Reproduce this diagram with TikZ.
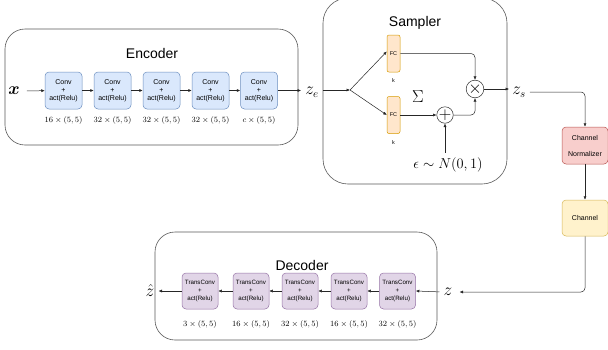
\documentclass[tikz,border=0pt]{standalone}
\usepackage{fontspec}
\setsansfont{Liberation Sans}
\usetikzlibrary{arrows.meta}
\definecolor{convfill}{HTML}{DAE8FC}
\definecolor{convdraw}{HTML}{6C8EBF}
\definecolor{fcfill}{HTML}{FFE6CC}
\definecolor{fcdraw}{HTML}{D79B00}
\definecolor{normfill}{HTML}{F8CECC}
\definecolor{normdraw}{HTML}{B85450}
\definecolor{chanfill}{HTML}{FFF2CC}
\definecolor{chandraw}{HTML}{D6B656}
\definecolor{tcfill}{HTML}{E1D5E7}
\definecolor{tcdraw}{HTML}{9673A6}
\begin{document}
\begin{tikzpicture}[x=1pt,y=-1pt,
  conn/.style={draw=black!85, line width=0.5pt, -{Latex[length=3.5pt,width=3pt]}},
  frame/.style={draw=black!65, line width=0.6pt, fill=white, inner sep=0pt},
  blockbox/.style={rounded corners=4pt, minimum width=37pt, minimum height=37pt, inner sep=0pt, align=center, line width=0.5pt},
  conv/.style={blockbox, draw=convdraw, fill=convfill, font=\sffamily\fontsize{7}{8}\selectfont},
  tconv/.style={blockbox, minimum width=36pt, minimum height=36pt, draw=tcdraw, fill=tcfill, font=\sffamily\fontsize{6.2}{8}\selectfont},
  fc/.style={draw=fcdraw, fill=fcfill, rounded corners=2pt, minimum width=13pt, minimum height=37pt, inner sep=0pt, line width=0.5pt, font=\sffamily\fontsize{5.5}{6}\selectfont},
  chan/.style={rounded corners=4pt, minimum width=46pt, minimum height=37pt, inner sep=0pt, align=center, line width=0.5pt, font=\sffamily\fontsize{7}{16}\selectfont},
  title/.style={font=\sffamily\fontsize{14}{16}\selectfont},
  dim/.style={font=\fontsize{8}{9}\selectfont},
  small/.style={font=\sffamily\fontsize{5.5}{6}\selectfont},
  bigmath/.style={font=\fontsize{16}{18}\selectfont, inner sep=1pt},
  opcirc/.style={circle, draw=black!85, line width=0.5pt, minimum size=16pt, inner sep=0pt, fill=white, font=\fontsize{18}{18}\selectfont}
]
\useasboundingbox (0,0) rectangle (608,349);

% frames
\node[frame, rounded corners=20pt, minimum width=293pt, minimum height=116pt] (encbox) at (151.5,87) {};
\node[frame, rounded corners=25pt, minimum width=184pt, minimum height=186pt] (sampbox) at (415,91) {};
\node[frame, rounded corners=20pt, minimum width=282pt, minimum height=108pt] (decbox) at (296,286) {};

\node[title] (enct) at (152,53) {Encoder};
\node[title] (sampt) at (415,23) {Sampler};
\node[title] (dect) at (302,265) {Decoder};

% encoder
\node[bigmath, font=\fontsize{16}{18}\selectfont\boldmath] (x) at (14,91) {$x$};
\node[conv] (c1) at (63.5,90.5) {Conv\\+\\act(Relu)};
\node[conv] (c2) at (112.5,90.5) {Conv\\+\\act(Relu)};
\node[conv] (c3) at (161.5,90.5) {Conv\\+\\act(Relu)};
\node[conv] (c4) at (210.5,90.5) {Conv\\+\\act(Relu)};
\node[conv] (c5) at (259,90.5) {Conv\\+\\act(Relu)};
\node[dim] (d1) at (63.5,120) {$16\times(5,5)$};
\node[dim] (d2) at (112.5,120) {$32\times(5,5)$};
\node[dim] (d3) at (161.5,120) {$32\times(5,5)$};
\node[dim] (d4) at (210.5,120) {$32\times(5,5)$};
\node[dim] (d5) at (259,120) {$c\times(5,5)$};
\node[bigmath] (ze) at (312,92) {$z_e$};

\draw[conn, shorten <=6pt] (x) -- (c1);
\draw[conn] (c1) -- (c2);
\draw[conn] (c2) -- (c3);
\draw[conn] (c3) -- (c4);
\draw[conn] (c4) -- (c5);
\draw[conn] (c5.east) -- ([xshift=-3pt]ze.west |- c5.east);

% sampler
\coordinate (split) at (350,90);
\node[fc] (fc1) at (393.5,53.5) {FC};
\node[fc] (fc2) at (393.5,115) {FC};
\node[small] (k1) at (393.5,81) {k};
\node[small] (k2) at (393.5,143) {k};
\node[font=\fontsize{19}{20}\selectfont] (sig) at (418,97) {$\Sigma$};
\node[opcirc] (plus) at (445,115) {$+$};
\node[opcirc] (times) at (475,89) {$\times$};
\node[inner sep=1pt, font=\fontsize{14.5}{16}\selectfont] (eps) at (448,165) {$\epsilon\sim N(0,1)$};
\node[bigmath] (zs) at (519,92) {$z_s$};

\draw[conn] ([xshift=3pt]ze.east |- split) -- (split);
\draw[conn] (split) -- ([yshift=2pt]fc1.west);
\draw[conn] (split) -- (fc2.west);
\draw[conn, rounded corners=4pt] (fc1.east) -| (times.north);
\draw[conn] (fc2.east) -- (plus.west);
\draw[conn, rounded corners=4pt] (plus.east) -| (times.south);
\draw[conn, shorten <=4pt] (eps.north -| plus) -- (plus.south);
\draw[conn] (times.east) -- ([xshift=-2pt]zs.west |- times.east);

% channel
\node[chan, draw=normdraw, fill=normfill] (norm) at (585,145.5) {Channel\\Normalizer};
\node[chan, draw=chandraw, fill=chanfill, minimum height=36pt] (chan) at (585,218) {Channel};
\draw[conn, rounded corners=4pt, shorten <=3pt] (zs.east) -| (norm.north);
\draw[conn] (norm) -- (chan);

% decoder
\node[bigmath] (z) at (448,292) {$z$};
\node[tconv] (t5) at (397.5,291) {TransConv\\+\\act(Relu)};
\node[tconv] (t4) at (349,291) {TransConv\\+\\act(Relu)};
\node[tconv] (t3) at (300,291) {TransConv\\+\\act(Relu)};
\node[tconv] (t2) at (251,291) {TransConv\\+\\act(Relu)};
\node[tconv] (t1) at (200,291) {TransConv\\+\\act(Relu)};
\node[dim] (e1) at (200,324) {$3\times(5,5)$};
\node[dim] (e2) at (251,324) {$16\times(5,5)$};
\node[dim] (e3) at (300,324) {$32\times(5,5)$};
\node[dim] (e4) at (349,324) {$16\times(5,5)$};
\node[dim] (e5) at (397.5,324) {$32\times(5,5)$};
\node[bigmath] (zhat) at (150,290) {$\hat{z}$};

\draw[conn, rounded corners=4pt] (chan.south) |- ([xshift=6pt]z.east);
\draw[conn, shorten <=3pt] (z.west) -- (t5.east);
\draw[conn] (t5) -- (t4);
\draw[conn] (t4) -- (t3);
\draw[conn] (t3) -- (t2);
\draw[conn] (t2) -- (t1);
\draw[conn] (t1.west) -- ([xshift=3pt]zhat.east |- t1.west);
\end{tikzpicture}
\end{document}
